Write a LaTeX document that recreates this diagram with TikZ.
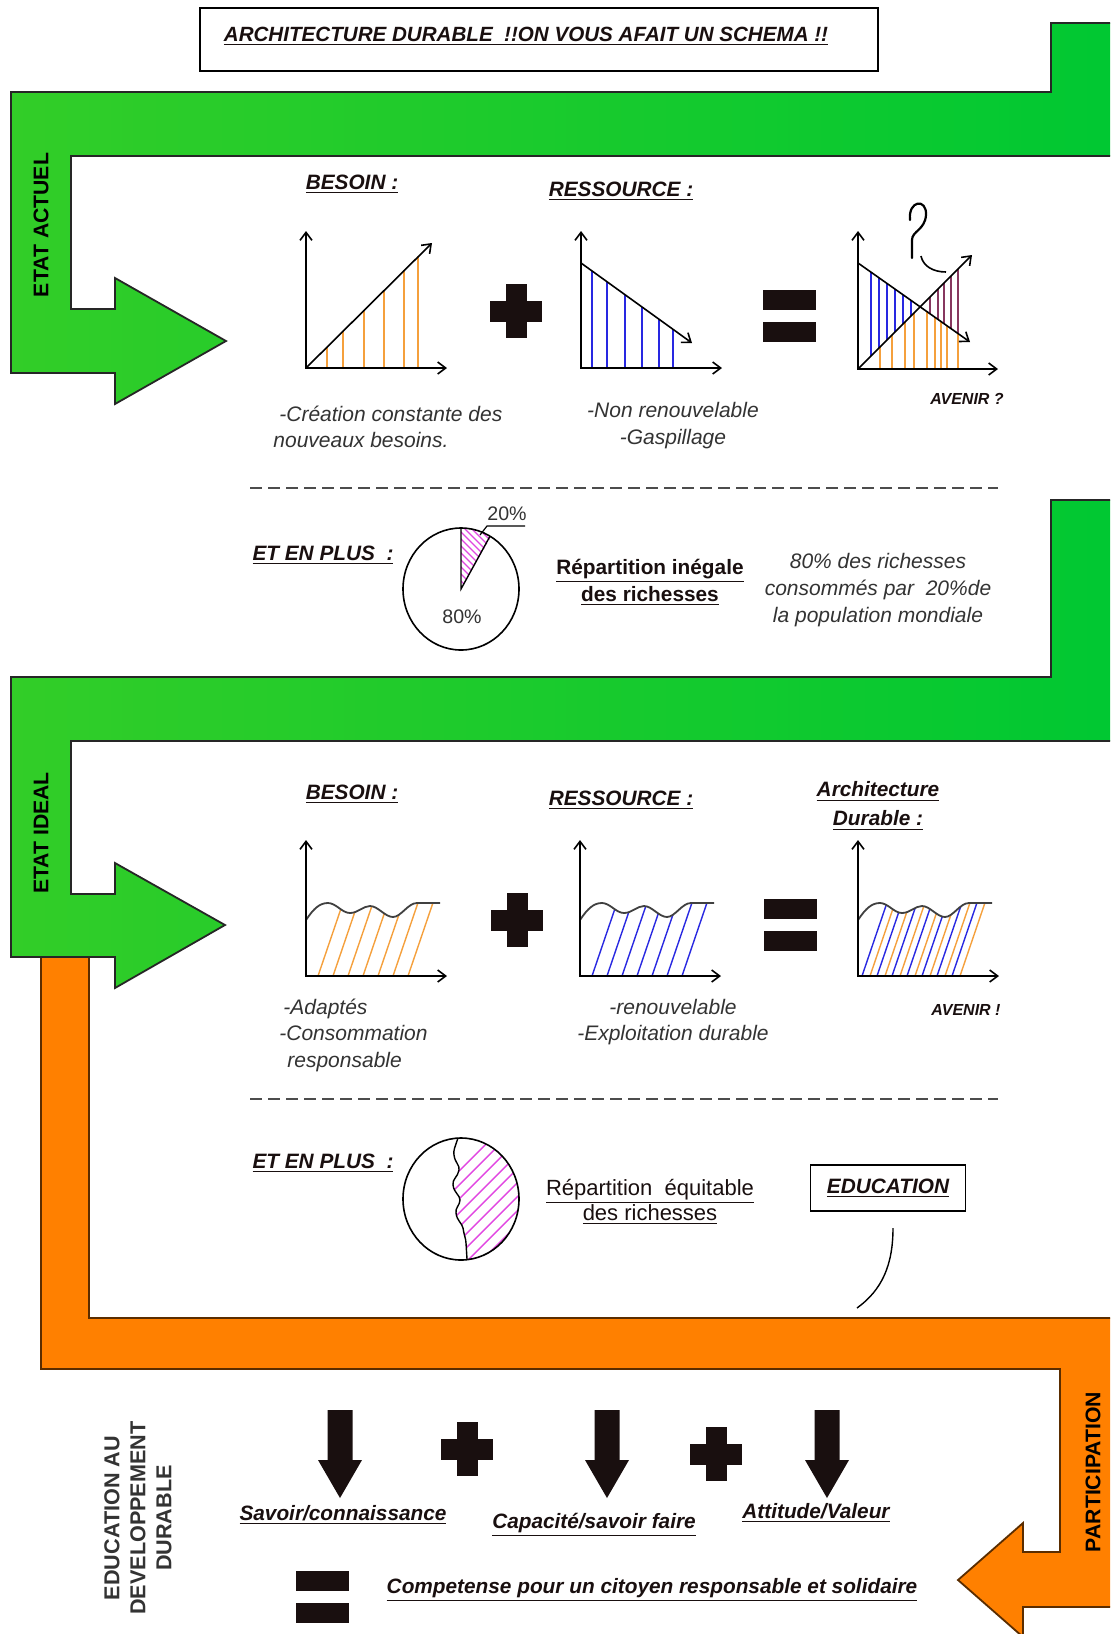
\documentclass[tikz,border=0pt]{standalone}
\usepackage{fontspec}
\setmainfont{Liberation Sans}
\usetikzlibrary{arrows.meta}

\definecolor{vertA}{RGB}{50,205,40}
\definecolor{vertB}{RGB}{0,200,50}
\definecolor{orangeP}{RGB}{255,128,0}
\definecolor{brunP}{RGB}{90,45,0}
\definecolor{hOrange}{RGB}{245,160,60}
\definecolor{hBleu}{RGB}{40,40,225}
\definecolor{hViolet}{RGB}{135,55,95}
\definecolor{hRose}{RGB}{225,70,225}
\definecolor{encre}{RGB}{25,15,15}

\begin{document}
\begin{tikzpicture}[x=0.5pt,y=-0.5pt,
    txt/.style={font=\fontsize{10.5}{13.5}\selectfont\itshape, text=black!80, inner sep=0pt},
    titre/.style={font=\fontsize{10.4}{14.5}\selectfont\bfseries\itshape, text=encre, inner sep=0pt, align=center},
    etat/.style={font=\fontsize{10.6}{13}\selectfont\bfseries, text=black, rotate=90, inner sep=0pt, align=center},
    bandeverte/.style={draw=black!85, line width=0.9pt, left color=vertA, right color=vertB},
    bandeorange/.style={draw=brunP, line width=0.9pt, fill=orangeP},
    axe/.style={line width=0.8pt, {Straight Barb[length=4pt,width=6pt]}-{Straight Barb[length=4pt,width=6pt]}},
    fleche/.style={line width=0.8pt, -{Straight Barb[length=4pt,width=6pt]}},
    hachure/.style={line width=0.7pt},
    pointille/.style={line width=1pt, black!70, dash pattern=on 6pt off 3pt},
    signeplus/.pic={\fill[encre] (-26,-10.5) rectangle (26,10.5); \fill[encre] (-10.5,-27) rectangle (10.5,27);},
    signeegal/.pic={\fill[encre] (-26.5,-26) rectangle (26.5,-6); \fill[encre] (-26.5,6) rectangle (26.5,26);},
    flechebas/.pic={\fill[encre] (-12.5,0) -- (12.5,0) -- (12.5,50) -- (22,50) -- (0,88) -- (-22,50) -- (-12.5,50) -- cycle;},
    graphevague/.pic={
      \begin{scope}
        \clip (0,0) -- (0,-56) .. controls (8,-68) and (14,-73) .. (22,-73) .. controls (30,-73) and (36,-63) .. (44,-63) .. controls (52,-63) and (57,-70) .. (64,-70) .. controls (72,-70) and (79,-59) .. (87,-59) .. controls (95,-59) and (102,-73) .. (111,-73) -- (140,-73) -- (140,0) -- cycle;
        \foreach \b/\c in {#1} \draw[hachure,\c] (\b,0) -- ++(30,-88);
      \end{scope}
      \draw[line width=0.9pt, black!75] (0,-56) .. controls (8,-68) and (14,-73) .. (22,-73) .. controls (30,-73) and (36,-63) .. (44,-63) .. controls (52,-63) and (57,-70) .. (64,-70) .. controls (72,-70) and (79,-59) .. (87,-59) .. controls (95,-59) and (102,-73) .. (111,-73) -- (134,-73);
      \draw[axe] (0,-136) -- (0,0) -- (141,0);
    }
  ]
  \useasboundingbox (0,0) rectangle (1110,1634);
  \clip (0,0) rectangle (1110,1634);
  \fill[white] (0,0) rectangle (1110,1634);

  % grandes fleches
  \draw[bandeverte] (1051,23) -- (1120,23) -- (1120,156) -- (71,156) -- (71,309) -- (115,309) -- (115,278) -- (226,341) -- (115,404) -- (115,373) -- (11,373) -- (11,92) -- (1051,92) -- cycle;
  \draw[bandeorange] (41,957) -- (89,957) -- (89,1318) -- (1120,1318) -- (1120,1607) -- (1023,1607) -- (1023,1637) -- (958,1580) -- (1023,1523) -- (1023,1552) -- (1060,1552) -- (1060,1369) -- (41,1369) -- cycle;
  \draw[bandeverte] (1051,500) -- (1120,500) -- (1120,741) -- (71,741) -- (71,894) -- (115,894) -- (115,863) -- (225,925) -- (115,988) -- (115,957) -- (11,957) -- (11,677) -- (1051,677) -- cycle;

  \node[etat] (actuel) at (41,225) {ETAT ACTUEL};
  \node[etat] (ideal) at (41,833) {ETAT IDEAL};
  \node[etat] (participation) at (1093,1472) {PARTICIPATION};
  \node[etat, font=\fontsize{10.8}{13}\selectfont\bfseries, text=black!80] (edd) at (138,1518) {EDUCATION AU\\DEVELOPPEMENT\\DURABLE};

  % titre
  \draw[line width=0.8pt] (200,8) rectangle (878,71);
  \node[titre, font=\fontsize{10.3}{12}\selectfont\bfseries\itshape] (titre) at (526,36) {\underline{ARCHITECTURE DURABLE\ \ !!ON VOUS AFAIT UN SCHEMA !!}};

  % etat actuel
  \node[titre] (besoinA) at (352,184) {\underline{BESOIN :}};
  \node[titre] (ressourceA) at (621,191) {\underline{RESSOURCE :}};

  \begin{scope}[shift={(306,368)}]
    \foreach \d in {21,37,58,78,98,112} \draw[hachure,hOrange] (\d,0) -- (\d,-\d);
    \draw[axe] (0,-137) -- (0,0) -- (141,0);
    \draw[fleche] (0,0) -- (126,-125);
  \end{scope}
  \pic at (516,311) {signeplus};
  \begin{scope}[shift={(581,368)}]
    \foreach \d in {11,26,44,61,78,92} \draw[hachure,hBleu] (\d,0) -- (\d,{-105+0.72*\d});
    \draw[axe] (0,-137) -- (0,0) -- (141,0);
    \draw[fleche] (0,-105) -- (111,-25);
  \end{scope}
  \pic at (789,316) {signeegal};
  \begin{scope}[shift={(858,369)}]
    \foreach \d in {13,21,29,37,45,53} \draw[hachure,hBleu] (\d,-\d) -- (\d,{-106+0.705*\d});
    \foreach \d in {22,34,47,56,69,77,83,89,100} \draw[hachure,hOrange] (\d,0) -- (\d,{-min(\d,106-0.705*\d)});
    \foreach \d in {72,80,86,93,100} \draw[hachure,hViolet] (\d,{-106+0.705*\d}) -- (\d,-\d);
    \draw[axe] (0,-138) -- (0,0) -- (140,0);
    \draw[fleche] (0,-106) -- (112,-27);
    \draw[fleche] (0,0) -- (114,-114);
  \end{scope}
  \draw[line width=1.1pt, line cap=round] (910,220) .. controls (908,200) and (927,198) .. (926,215) .. controls (925,230) and (912,231) .. (912,240) -- (912,258);
  \draw[line width=0.8pt] (921,256) .. controls (923,266) and (933,272) .. (946,272);

  \node[txt, anchor=west] (creation) at (279,414) {-Création constante des};
  \node[txt, anchor=west] (nouveaux) at (273,440) {nouveaux besoins.};
  \node[txt, align=center] (nonrenouv) at (673,426) {-Non renouvelable\\-Gaspillage};
  \node[titre, font=\fontsize{8}{10}\selectfont\bfseries\itshape] (avenirA) at (967,399) {AVENIR ?};

  \draw[pointille] (250,488) -- (998,488);

  \node[titre] (plusA) at (323,555) {\underline{ET EN PLUS\ \ :}};
  \begin{scope}[shift={(461,589)}]
    \begin{scope}
      \clip (0,0) ellipse [x radius=58, y radius=61];
      \clip (0,0) -- (0,-100) -- (57.7,-100) -- cycle;
      \foreach \k in {-100,-93,...,40} \draw[hachure,hRose] (\k,-80) -- ++(110,110);
    \end{scope}
    \draw[line width=0.8pt] (0,0) ellipse [x radius=58, y radius=61];
    \draw[line width=0.7pt] (0,-61) -- (0,0) -- (29,-52.8);
  \end{scope}
  \draw[line width=0.6pt] (480,535) -- (487,526) -- (525,526);
  \node[txt, font=\fontsize{9.8}{12}\selectfont] (vingt) at (507,514) {20\%};
  \node[txt, font=\fontsize{9.8}{12}\selectfont] (quatrevingt) at (462,617) {80\%};
  \node[titre, font=\fontsize{10.4}{13.5}\selectfont\bfseries] (inegale) at (650,582) {\underline{Répartition inégale}\\\underline{des richesses}};
  \node[txt, align=center] (richesses) at (878,590) {80\% des richesses\\consommés par\ \ 20\%de\\la population mondiale};

  % etat ideal
  \node[titre] (besoinB) at (352,794) {\underline{BESOIN :}};
  \node[titre] (ressourceB) at (621,800) {\underline{RESSOURCE :}};
  \node[titre] (archi) at (878,806) {\underline{Architecture}\\\underline{Durable :}};

  \pic at (306,976) {graphevague={12/hOrange,27/hOrange,42/hOrange,57/hOrange,72/hOrange,87/hOrange,102/hOrange}};
  \pic at (517,920) {signeplus};
  \pic at (580,976) {graphevague={12/hBleu,27/hBleu,42/hBleu,57/hBleu,72/hBleu,87/hBleu,102/hBleu}};
  \pic at (790,925) {signeegal};
  \pic at (858,976) {graphevague={4/hBleu,12/hOrange,19/hBleu,27/hOrange,34/hBleu,42/hOrange,49/hBleu,57/hOrange,64/hBleu,72/hOrange,79/hBleu,87/hOrange,94/hBleu,102/hOrange}};

  \node[txt, align=left, anchor=west, font=\fontsize{10.5}{13.25}\selectfont\itshape] (adaptes) at (279,1035) {\hspace{2pt}-Adaptés\\-Consommation\\\hspace{4pt}responsable};
  \node[txt, align=center, font=\fontsize{10.5}{13}\selectfont\itshape] (renouv) at (673,1022) {-renouvelable\\-Exploitation durable};
  \node[titre, font=\fontsize{8}{10}\selectfont\bfseries\itshape] (avenirB) at (966,1010) {AVENIR !};

  \draw[pointille] (250,1099) -- (998,1099);

  \node[titre] (plusB) at (323,1163) {\underline{ET EN PLUS\ \ :}};
  \begin{scope}[shift={(461,1199)}]
    \begin{scope}
      \clip (0,0) ellipse [x radius=58, y radius=61];
      \clip (-3,-62) .. controls (-6,-52) and (-8,-48) .. (-7,-44) .. controls (-6,-36) and (-1,-34) .. (-2,-29) .. controls (-3,-22) and (-9,-20) .. (-8,-14) .. controls (-7,-6) and (-1,-4) .. (-1,1) .. controls (-1,6) and (-6,9) .. (-5,14) .. controls (-4,22) and (1,24) .. (2,29) .. controls (3,36) and (5,40) .. (5,44) -- (6,62) -- (70,62) -- (70,-62) -- cycle;
      \foreach \k in {-110,-96,...,80} \draw[hachure,hRose] (\k,80) -- ++(160,-160);
    \end{scope}
    \draw[line width=0.8pt] (0,0) ellipse [x radius=58, y radius=61];
    \draw[line width=0.7pt] (-3,-61) .. controls (-6,-52) and (-8,-48) .. (-7,-44) .. controls (-6,-36) and (-1,-34) .. (-2,-29) .. controls (-3,-22) and (-9,-20) .. (-8,-14) .. controls (-7,-6) and (-1,-4) .. (-1,1) .. controls (-1,6) and (-6,9) .. (-5,14) .. controls (-4,22) and (1,24) .. (2,29) .. controls (3,36) and (5,40) .. (5,44) -- (6,60);
  \end{scope}
  \node[txt, align=center, font=\fontsize{11}{12.5}\selectfont, text=encre] (equitable) at (650,1202) {\underline{Répartition\ \ équitable}\\\underline{des richesses}};

  \node[titre, draw=black, line width=0.8pt, minimum width=77.5pt, minimum height=23pt] (education) at (888,1188) {\underline{EDUCATION}};
  \coordinate (lienA) at (893,1228);
  \coordinate (lienB) at (857,1308);
  \draw[line width=0.7pt] (lienA) .. controls (893,1265) and (882,1290) .. (lienB);

  % education au developpement durable
  \pic at (340,1410) {flechebas};
  \pic at (467,1449) {signeplus};
  \pic at (607,1410) {flechebas};
  \pic at (716,1454) {signeplus};
  \pic at (827,1410) {flechebas};
  \node[titre] (savoir) at (343,1515) {\underline{Savoir/connaissance}};
  \node[titre] (capacite) at (594,1525) {\underline{Capacité/savoir faire}};
  \node[titre] (attitude) at (816,1513) {\underline{Attitude/Valeur}};
  \pic at (322,1597) {signeegal};
  \node[titre] (competence) at (652,1590) {\underline{Competense pour un citoyen responsable et solidaire}};
\end{tikzpicture}
\end{document}
